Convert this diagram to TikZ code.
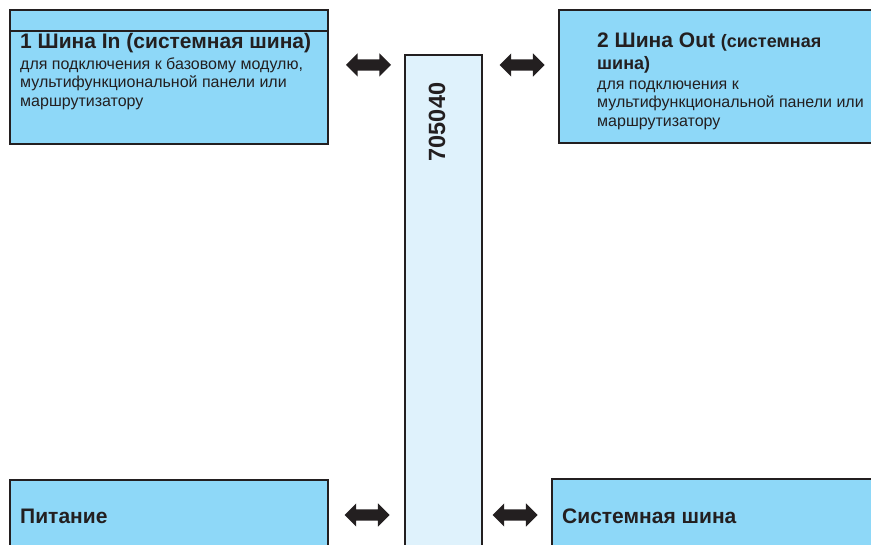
\documentclass[tikz,border=0pt]{standalone}
\usepackage{fontspec}
\setmainfont{Liberation Sans}
\usetikzlibrary{shapes.arrows}
\definecolor{boxblue}{HTML}{8ED8F8}
\definecolor{colblue}{HTML}{DFF2FC}
\definecolor{ink}{HTML}{231F20}
\tikzset{
  panel/.style={draw=ink, line width=1.8pt, fill=boxblue},
  column/.style={draw=ink, line width=1.6pt, fill=colblue},
  txt/.style={anchor=base west, inner sep=0pt, text=ink},
  ttl/.style={txt, font=\bfseries\fontsize{21}{24}\selectfont},
  ttls/.style={txt, font=\bfseries\fontsize{18}{21}\selectfont},
  body/.style={txt, font=\fontsize{16}{19}\selectfont},
  dblarrow/.style={double arrow, fill=ink, draw=none, inner sep=0pt,
    text height=11pt, text depth=0pt, text width=0pt,
    minimum width=23pt, minimum height=45pt, double arrow head extend=6pt}
}
\begin{document}
\begin{tikzpicture}[x=1pt, y=-1pt]
\useasboundingbox (0,0) rectangle (871,545);
% boxes
\draw[panel] (10,10) rectangle (328,144);
\draw[ink, line width=1.8pt] (10,31) -- (328,31);
\draw[panel] (559,10) rectangle (880,143);
\draw[panel] (10,480) rectangle (328,560);
\draw[panel] (552,479) rectangle (880,560);
\draw[column] (405,55) rectangle (482,560);
% center label
\node[rotate=90, inner sep=0pt, text=ink, font=\bfseries\fontsize{23.5}{26}\selectfont] (col) at (437,122) {705040};
% box 1 text
\node[ttl] (t1) at (20,49) {1 Шина In (системная шина)};
\node[body] (t1a) at (20,70) {для подключения к базовому модулю,};
\node[body] (t1b) at (20,88) {мультифункциональной панели или};
\node[body] (t1c) at (20,107) {маршрутизатору};
% box 2 text
\node[ttl] (t2) at (597,48) {2 Шина Out \fontsize{18}{21}\selectfont(системная};
\node[ttls] (t2x) at (597,70) {шина)};
\node[body] (t2a) at (597,90) {для подключения к};
\node[body] (t2b) at (597,108) {мультифункциональной панели или};
\node[body] (t2c) at (597,127) {маршрутизатору};
% bottom labels
\node[ttl] (t3) at (20,523) {Питание};
\node[ttl] (t4) at (562,523) {Системная шина};
% arrows
\node[dblarrow] (a1) at (368.5,65) {};
\node[dblarrow] (a2) at (522,65) {};
\node[dblarrow] (a3) at (367,515) {};
\node[dblarrow] (a4) at (515,515) {};
\end{tikzpicture}
\end{document}
